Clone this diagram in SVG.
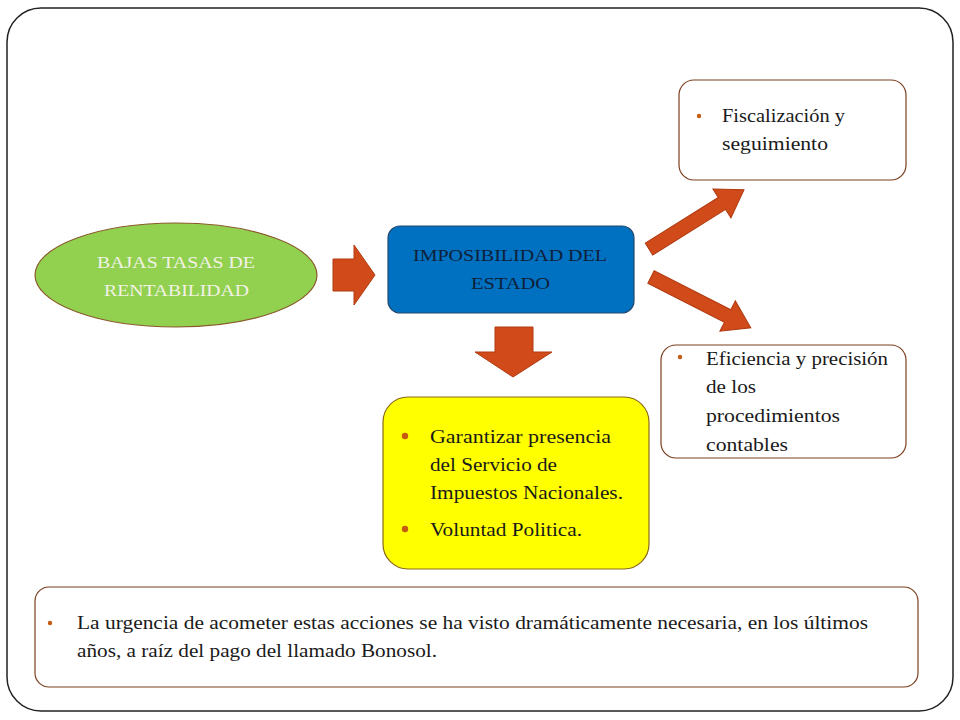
<svg xmlns="http://www.w3.org/2000/svg" width="960" height="720" viewBox="0 0 960 720">
<defs>
<style>
.box{fill:#fff;stroke:#7b3f1f;stroke-width:1.2}
.bul{fill:#c55a11}
.arr{fill:#d04a1a;stroke:#b03a10;stroke-width:1}
</style>
<path id="diag" d="M0,-7 L86,-7 L86,-17 L112,0 L86,17 L86,7 L0,7 Z"/>
</defs>
<rect width="960" height="720" fill="#fff"/>
<rect x="7" y="8" width="946" height="703" rx="34" ry="34" fill="none" stroke="#222" stroke-width="1.5"/>

<g id="connectors">
<path class="arr" d="M333,259 L354,259 L354,245 L375,275 L354,305 L354,291 L333,291 Z"/>
<path class="arr" d="M495,327 L533,327 L533,352 L552,352 L513,377 L475,352 L495,352 Z"/>
<use href="#diag" class="arr" transform="translate(649,249) rotate(-32)"/>
<use href="#diag" class="arr" transform="translate(651,277) rotate(27)"/>
</g>

<g id="n-bajas">
<ellipse cx="176" cy="275" rx="141" ry="52" fill="#92d050" stroke="#8a5a2b" stroke-width="1.2"/>
<text x="97" y="268" font-family="Liberation Serif, serif" font-size="17" fill="#f2f2e6" textLength="158" lengthAdjust="spacingAndGlyphs">BAJAS TASAS DE</text>
<text x="104" y="296" font-family="Liberation Serif, serif" font-size="17" fill="#f2f2e6" textLength="145" lengthAdjust="spacingAndGlyphs">RENTABILIDAD</text>
</g>

<g id="n-imposibilidad">
<rect x="388" y="226" width="246" height="87" rx="12" fill="#0070c0" stroke="#254a6e" stroke-width="1.2"/>
<text x="413" y="261" font-family="Liberation Serif, serif" font-size="16" fill="#0f1f3a" textLength="194" lengthAdjust="spacingAndGlyphs">IMPOSIBILIDAD DEL</text>
<text x="471" y="289" font-family="Liberation Serif, serif" font-size="16" fill="#0f1f3a" textLength="79" lengthAdjust="spacingAndGlyphs">ESTADO</text>
</g>

<g id="n-garantizar">
<rect x="383" y="397" width="266" height="172" rx="25" fill="#ffff00" stroke="#8a6a1a" stroke-width="1.2"/>
<circle cx="405" cy="436" r="3.2" class="bul"/>
<circle cx="405" cy="529" r="3.2" class="bul"/>
<text x="430" y="443" font-family="Liberation Serif, serif" font-size="19" fill="#1a1a1a" textLength="181" lengthAdjust="spacingAndGlyphs">Garantizar presencia</text>
<text x="430" y="471" font-family="Liberation Serif, serif" font-size="19" fill="#1a1a1a" textLength="127" lengthAdjust="spacingAndGlyphs">del Servicio de</text>
<text x="430" y="499" font-family="Liberation Serif, serif" font-size="19" fill="#1a1a1a" textLength="193" lengthAdjust="spacingAndGlyphs">Impuestos Nacionales.</text>
<text x="430" y="536" font-family="Liberation Serif, serif" font-size="19" fill="#1a1a1a" textLength="152" lengthAdjust="spacingAndGlyphs">Voluntad Politica.</text>
</g>

<g id="n-fiscalizacion">
<rect x="679" y="80" width="227" height="100" rx="15" class="box"/>
<circle cx="699" cy="116" r="2.2" class="bul"/>
<text x="722" y="122" font-family="Liberation Serif, serif" font-size="19" fill="#1a1a1a" textLength="123" lengthAdjust="spacingAndGlyphs">Fiscalización y</text>
<text x="722" y="150" font-family="Liberation Serif, serif" font-size="19" fill="#1a1a1a" textLength="106" lengthAdjust="spacingAndGlyphs">seguimiento</text>
</g>

<g id="n-eficiencia">
<rect x="661" y="345" width="245" height="113" rx="15" class="box"/>
<circle cx="680" cy="357" r="2.2" class="bul"/>
<text x="706" y="365" font-family="Liberation Serif, serif" font-size="19" fill="#1a1a1a" textLength="182" lengthAdjust="spacingAndGlyphs">Eficiencia y precisión</text>
<text x="706" y="393" font-family="Liberation Serif, serif" font-size="19" fill="#1a1a1a" textLength="50" lengthAdjust="spacingAndGlyphs">de los</text>
<text x="706" y="422" font-family="Liberation Serif, serif" font-size="19" fill="#1a1a1a" textLength="134" lengthAdjust="spacingAndGlyphs">procedimientos</text>
<text x="706" y="451" font-family="Liberation Serif, serif" font-size="19" fill="#1a1a1a" textLength="82" lengthAdjust="spacingAndGlyphs">contables</text>
</g>

<g id="n-urgencia">
<rect x="35" y="587" width="883" height="100" rx="14" class="box"/>
<circle cx="50" cy="623" r="2.2" class="bul"/>
<text x="77" y="629" font-family="Liberation Serif, serif" font-size="19" fill="#1a1a1a" textLength="791" lengthAdjust="spacingAndGlyphs">La urgencia de acometer estas acciones se ha visto dramáticamente necesaria, en los últimos</text>
<text x="77" y="657" font-family="Liberation Serif, serif" font-size="19" fill="#1a1a1a" textLength="360" lengthAdjust="spacingAndGlyphs">años, a raíz del pago del llamado Bonosol.</text>
</g>
</svg>
